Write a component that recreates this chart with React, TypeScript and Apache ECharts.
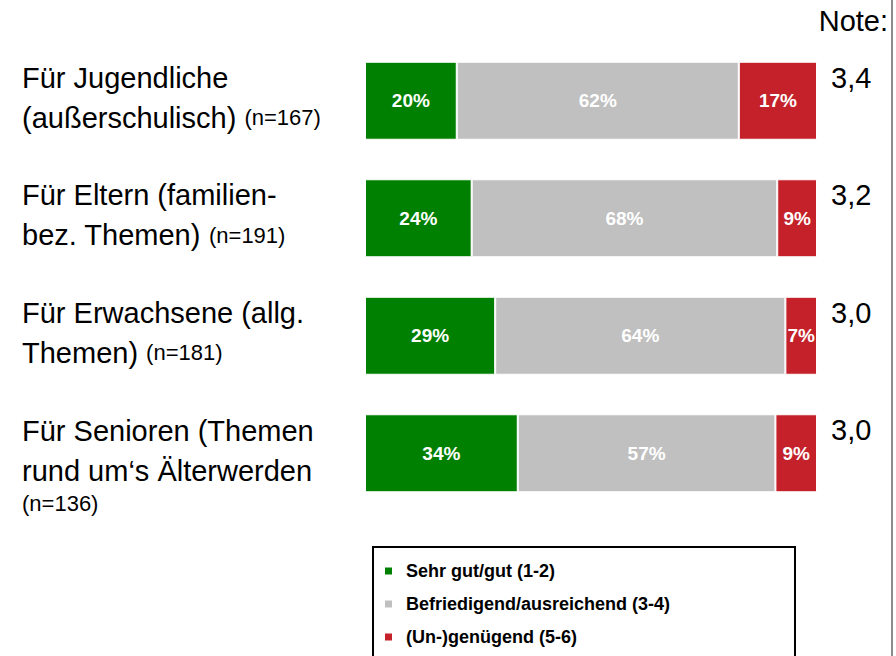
import React, { useEffect, useRef } from "react";
import * as echarts from "echarts";

const categories = [
  "{s|}\n{a|Für Jugendliche}\n{a|(außerschulisch) }{b|(n=167)}",
  "{a|Für Eltern (familien-}\n{a|bez. Themen) }{b|(n=191)}",
  "{a|Für Erwachsene (allg.}\n{a|Themen) }{b|(n=181)}",
  "{t|}\n{a|Für Senioren (Themen}\n{a|rund um‘s Älterwerden}\n{c|(n=136)}",
];
const notes = ["3,4", "3,2", "3,0", "3,0"];
const seriesNames = [
  "Sehr gut/gut (1-2)",
  "Befriedigend/ausreichend (3-4)",
  "(Un-)genügend (5-6)",
];
const good = [20.3, 23.6, 28.8, 33.8];
const medium = [62.4, 67.6, 64.2, 57.0];
const poor = [17.3, 8.8, 7.0, 9.2];
const colors = ["#008000", "#c0c0c0", "#c4212a"];

const FONT = 'Arial, "Liberation Sans", sans-serif';

export default function App() {
  const ref = useRef<HTMLDivElement>(null);
  useEffect(() => {
    if (!ref.current) return;
    const chart = echarts.init(ref.current, null, { renderer: "svg" });
    const values = [good, medium, poor];
    chart.setOption({
      animation: false,
      textStyle: { fontFamily: FONT },
      title: {
        text: "Note:",
        right: 8,
        top: 6,
        padding: 0,
        textStyle: { fontSize: 29, fontWeight: "normal", color: "#000", fontFamily: FONT },
      },
      grid: { left: 365, right: 79, top: 42, height: 470 },
      xAxis: { type: "value", min: 0, max: 100, show: false },
      yAxis: [
        {
          type: "category",
          data: categories,
          inverse: true,
          axisLine: { show: false },
          axisTick: { show: false },
          axisLabel: {
            align: "left",
            margin: 343,
            padding: [0, 0, 6, 0],
            color: "#000",
            rich: {
              a: { fontSize: 29, lineHeight: 40, color: "#000", fontFamily: FONT },
              b: { fontSize: 22, lineHeight: 40, color: "#000", fontFamily: FONT },
              c: { fontSize: 22, lineHeight: 24, color: "#000", fontFamily: FONT },
              s: { fontSize: 1, lineHeight: 0, height: 0 },
              t: { fontSize: 1, lineHeight: 26, height: 26 },
            },
          },
        },
        {
          type: "category",
          data: notes,
          inverse: true,
          position: "right",
          axisLine: { show: false },
          axisTick: { show: false },
          axisLabel: {
            align: "left",
            margin: 14,
            formatter: (v: string) => "{v|" + v + "}\n{s|}",
            rich: {
              v: { fontSize: 29, lineHeight: 34, color: "#000", fontFamily: FONT },
              s: { fontSize: 1, lineHeight: 46, height: 46 },
            },
          },
        },
      ],
      legend: {
        orient: "vertical",
        left: 383,
        top: 562,
        padding: 0,
        itemGap: 15,
        itemWidth: 9,
        itemHeight: 9,
        icon: "rect",
        data: seriesNames,
        textStyle: {
          fontSize: 18,
          fontWeight: "bold",
          color: "#000",
          fontFamily: FONT,
          padding: [0, 0, 0, 8],
        },
      },
      series: seriesNames.map((name, i) => ({
        name,
        type: "bar",
        stack: "total",
        barWidth: 78,
        data: values[i],
        itemStyle: { color: colors[i], borderColor: "#ffffff", borderWidth: 1 },
        label: {
          show: true,
          position: "inside",
          color: "#fff",
          fontSize: 19,
          fontWeight: "bold",
          fontFamily: FONT,
          formatter: (p: any) => Math.round(p.value) + "%",
        },
      })),
      graphic: [
        {
          type: "rect",
          shape: { x: 373, y: 547, width: 422, height: 130 },
          style: { fill: "none", stroke: "#000", lineWidth: 2 },
          silent: true,
        },
        {
          type: "line",
          shape: { x1: 892, y1: 0, x2: 892, y2: 656 },
          style: { stroke: "#8c8c8c", lineWidth: 2 },
          silent: true,
        },
      ],
    });
    return () => chart.dispose();
  }, []);
  return (
    <div
      ref={ref}
      style={{ position: "fixed", left: 0, top: 0, width: 896, height: 656, background: "#fff" }}
    />
  );
}
